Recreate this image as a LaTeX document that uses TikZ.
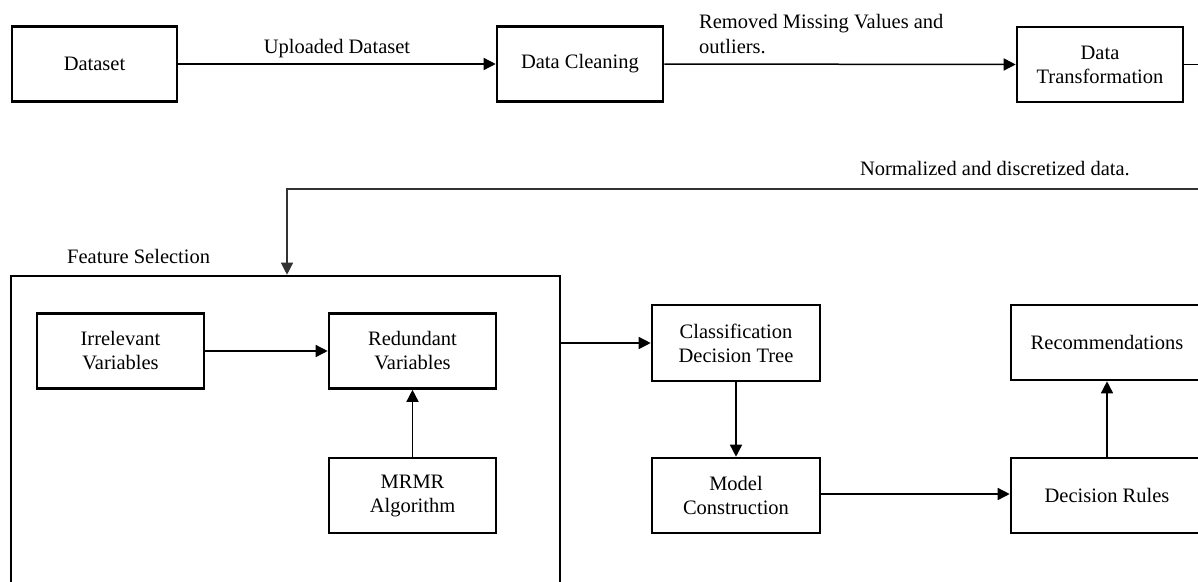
\documentclass[tikz,border=0pt]{standalone}
\usepackage{fontspec}
\setmainfont{Liberation Serif}
\usetikzlibrary{arrows.meta}
\begin{document}
\begin{tikzpicture}[x=1pt,y=-1pt,
  box/.style={draw, line width=2.6pt, inner sep=0pt, align=center, minimum height=75pt},
  lbl/.style={inner sep=0pt, align=left},
  arr/.style={line width=1.5pt, -{Triangle[length=12pt,width=12pt]}},
  plain/.style={line width=1.5pt},
  every node/.style={font=\fontsize{20.5}{24}\selectfont}]
\path[use as bounding box] (0,0) rectangle (1198,581);
\clip (0,0) rectangle (1198,581);
% top row
\node[box, minimum width=165pt] (ds) at (94.5,64) {Dataset};
\node[box, minimum width=166pt] (dc) at (580,64) {Data Cleaning};
\node[box, minimum width=166pt] (dt) at (1100,64.5) {Data\\Transformation};
\coordinate (outT) at (1215,64.5);
\coordinate (inN) at (1215,189);
% feature selection container
\node[draw, line width=2.6pt, inner sep=0pt, minimum width=549pt, minimum height=360pt] (fs) at (285.5,456) {};
\node[box, minimum width=167pt] (irr) at (120.5,351) {Irrelevant\\Variables};
\node[box, minimum width=167pt] (red) at (412.5,351) {Redundant\\Variables};
\node[box, minimum width=167pt] (mrmr) at (412.5,495.5) {MRMR\\Algorithm};
% right part
\node[box, minimum width=168pt, minimum height=76pt] (cls) at (736,343) {Classification\\Decision Tree};
\node[box, minimum width=168pt] (mc) at (736,495.5) {Model\\Construction};
\node[box, minimum width=192pt] (rec) at (1107,342.5) {Recommendations};
\node[box, minimum width=192pt] (dr) at (1107,495.5) {Decision Rules};
% labels
\node[lbl, anchor=base] (lup) at (337,53) {Uploaded Dataset};
\node[lbl, anchor=base west] (lrm) at (699,28) {Removed Missing Values and};
\node[lbl, anchor=base west] (lrm2) at (699,53) {outliers.};
\node[lbl, anchor=base east] (lnd) at (1130,175) {Normalized and discretized data.};
\node[lbl, anchor=base west] (lfs) at (67,263) {Feature Selection};
% connectors
\draw[arr] (ds.east) -- (dc.west);
\draw[arr] (dc.east) -- (dt.west);
\draw[plain] (dt.east) -- (outT);
\draw[arr, line width=1.3pt, draw=black!80] (inN) -| ([xshift=1.5pt]fs.north);
\draw[arr] (irr.east) -- (red.west);
\draw[arr] (mrmr.north) -- (red.south);
\draw[arr] (fs.east |- cls.west) -- (cls.west);
\draw[arr] (cls.south) -- (mc.north);
\draw[arr] ([yshift=1.5pt]mc.east) -- ([yshift=1.5pt]dr.west);
\draw[arr] (dr.north) -- (rec.south);
\end{tikzpicture}
\end{document}
